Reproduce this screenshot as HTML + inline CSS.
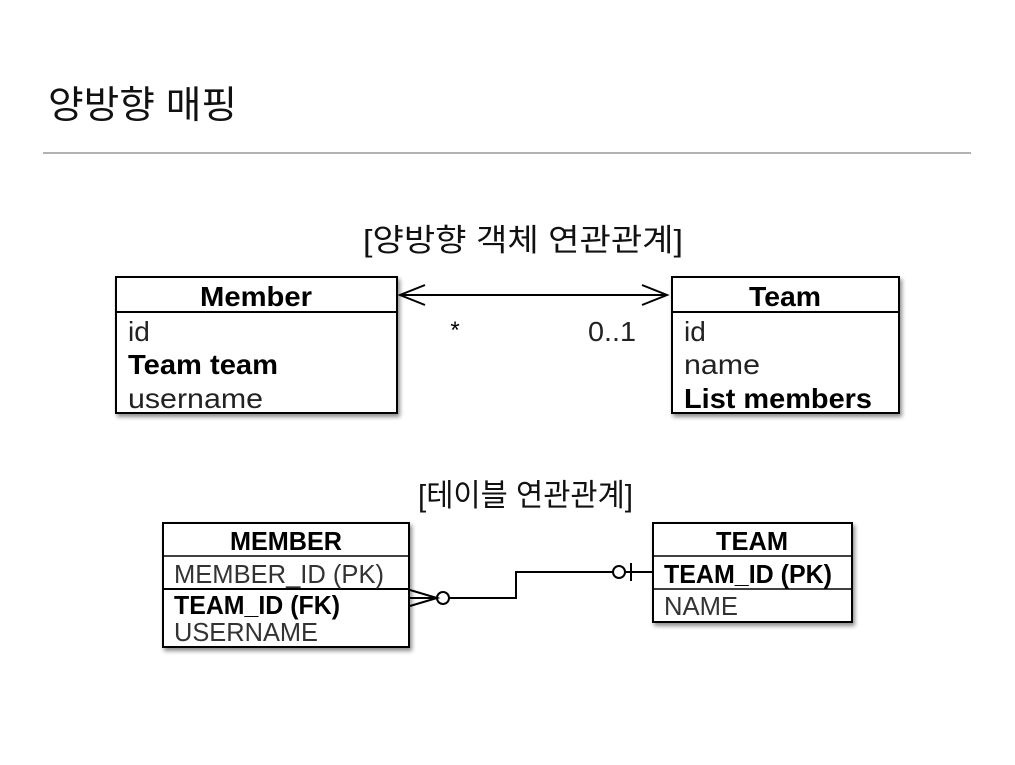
<!DOCTYPE html>
<html><head><meta charset="utf-8"><style>
html,body{margin:0;padding:0;background:#fff;}
</style></head><body>
<svg width="1015" height="760" viewBox="0 0 1015 760" xmlns="http://www.w3.org/2000/svg" font-family="'Liberation Sans','Noto Sans CJK KR',sans-serif">
<defs><filter id="sh" x="-10%" y="-10%" width="130%" height="130%"><feDropShadow dx="2" dy="3" stdDeviation="2" flood-color="#000" flood-opacity="0.45"/></filter></defs>
<text x="48" y="118" font-size="38" fill="#111" textLength="189" lengthAdjust="spacingAndGlyphs">양방향 매핑</text>
<line x1="43" y1="153" x2="971" y2="153" stroke="#999" stroke-width="1.5"/>
<text x="363" y="251" font-size="31" fill="#111" textLength="320" lengthAdjust="spacingAndGlyphs">[양방향 객체 연관관계]</text>
<!-- Member -->
<rect x="116" y="277" width="281" height="136" fill="#fff" stroke="#000" stroke-width="2" filter="url(#sh)"/>
<line x1="116" y1="312" x2="397" y2="312" stroke="#000" stroke-width="2"/>
<text x="256" y="306" font-size="28" font-weight="bold" text-anchor="middle" textLength="112" lengthAdjust="spacingAndGlyphs">Member</text>
<text x="128" y="341" font-size="28" fill="#222">id</text>
<text x="128" y="374" font-size="28" font-weight="bold" textLength="150" lengthAdjust="spacingAndGlyphs">Team team</text>
<text x="128" y="408" font-size="28" fill="#222" textLength="135" lengthAdjust="spacingAndGlyphs">username</text>
<!-- Team -->
<rect x="672" y="277" width="227" height="136" fill="#fff" stroke="#000" stroke-width="2" filter="url(#sh)"/>
<line x1="672" y1="312" x2="899" y2="312" stroke="#000" stroke-width="2"/>
<text x="785" y="306" font-size="28" font-weight="bold" text-anchor="middle" textLength="72" lengthAdjust="spacingAndGlyphs">Team</text>
<text x="684" y="341" font-size="28" fill="#222">id</text>
<text x="684" y="374" font-size="28" fill="#222" textLength="76" lengthAdjust="spacingAndGlyphs">name</text>
<text x="684" y="408" font-size="28" font-weight="bold" textLength="188" lengthAdjust="spacingAndGlyphs">List members</text>
<!-- arrow -->
<line x1="400" y1="295" x2="667" y2="295" stroke="#000" stroke-width="2"/>
<polyline points="425,285 400,295 425,305" fill="none" stroke="#000" stroke-width="2"/>
<polyline points="642,285 667,295 642,305" fill="none" stroke="#000" stroke-width="2"/>
<text x="455" y="338" font-size="24" text-anchor="middle">*</text>
<text x="588" y="341" font-size="28" fill="#222" textLength="48" lengthAdjust="spacingAndGlyphs">0..1</text>
<text x="418" y="506" font-size="31" fill="#111" textLength="215" lengthAdjust="spacingAndGlyphs">[테이블 연관관계]</text>
<!-- MEMBER table -->
<rect x="163" y="523" width="246" height="124" fill="#fff" stroke="#000" stroke-width="2" filter="url(#sh)"/>
<line x1="163" y1="556" x2="409" y2="556" stroke="#000" stroke-width="1.5"/>
<line x1="163" y1="589" x2="409" y2="589" stroke="#000" stroke-width="2"/>
<text x="286" y="550" font-size="26" font-weight="bold" text-anchor="middle" textLength="112" lengthAdjust="spacingAndGlyphs">MEMBER</text>
<text x="174" y="583" font-size="26" fill="#333" textLength="210" lengthAdjust="spacingAndGlyphs">MEMBER_ID (PK)</text>
<text x="174" y="614" font-size="26" font-weight="bold" textLength="166" lengthAdjust="spacingAndGlyphs">TEAM_ID (FK)</text>
<text x="174" y="641" font-size="26" fill="#333" textLength="144" lengthAdjust="spacingAndGlyphs">USERNAME</text>
<!-- TEAM table -->
<rect x="653" y="523" width="199" height="99" fill="#fff" stroke="#000" stroke-width="2" filter="url(#sh)"/>
<line x1="653" y1="556" x2="852" y2="556" stroke="#000" stroke-width="1.5"/>
<line x1="653" y1="589" x2="852" y2="589" stroke="#000" stroke-width="1.5"/>
<text x="752" y="550" font-size="26" font-weight="bold" text-anchor="middle" textLength="72" lengthAdjust="spacingAndGlyphs">TEAM</text>
<text x="664" y="583" font-size="26" font-weight="bold" textLength="168" lengthAdjust="spacingAndGlyphs">TEAM_ID (PK)</text>
<text x="664" y="615" font-size="26" fill="#333" textLength="74" lengthAdjust="spacingAndGlyphs">NAME</text>
<!-- connector -->
<polyline points="449,598 516,598 516,572 613,572" fill="none" stroke="#000" stroke-width="2"/>
<circle cx="443" cy="598" r="6" fill="#fff" stroke="#000" stroke-width="2"/>
<polyline points="410,590 437,598 410,606" fill="none" stroke="#000" stroke-width="2"/>
<line x1="410" y1="598" x2="437" y2="598" stroke="#000" stroke-width="2"/>
<circle cx="619" cy="572" r="6" fill="#fff" stroke="#000" stroke-width="2"/>
<line x1="625" y1="572" x2="653" y2="572" stroke="#000" stroke-width="2"/>
<line x1="631" y1="563" x2="631" y2="581" stroke="#000" stroke-width="2"/>
</svg>
</body></html>
